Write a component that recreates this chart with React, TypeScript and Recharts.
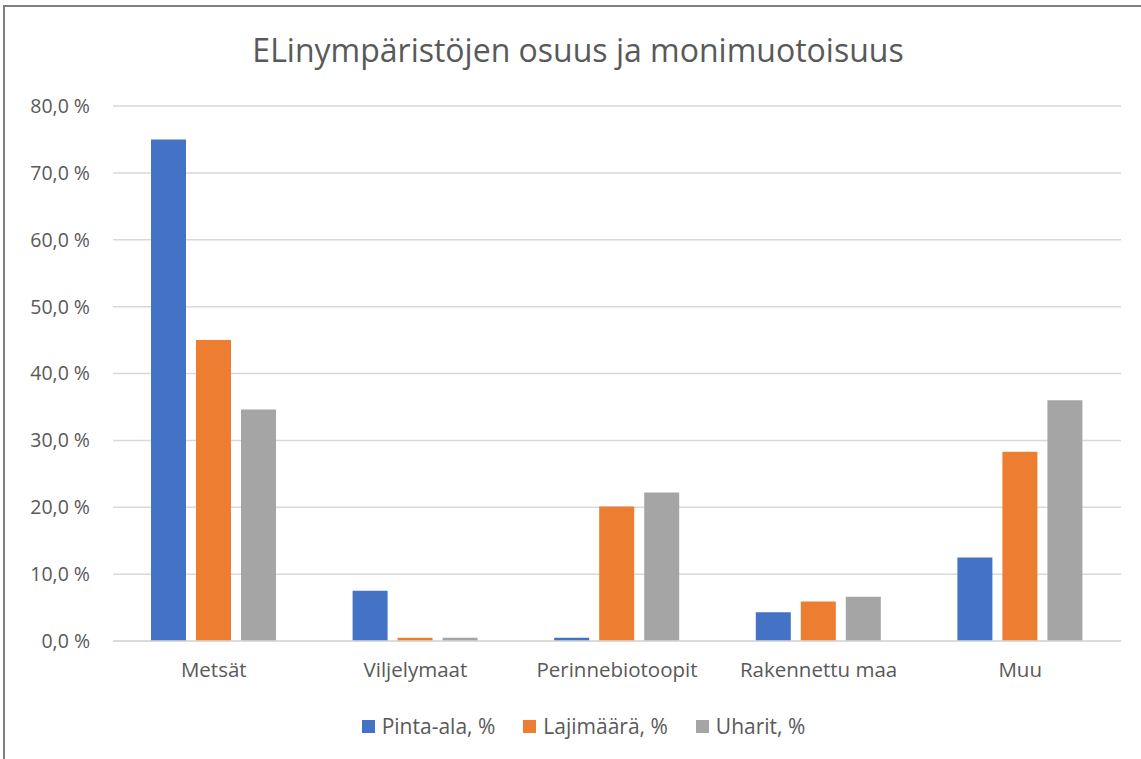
import React from 'react';
import { BarChart, Bar, XAxis, YAxis, CartesianGrid } from 'recharts';

const CATEGORIES = ['Metsät', 'Viljelymaat', 'Perinnebiotoopit', 'Rakennettu maa', 'Muu'];
const PINTA_ALA = [75.0, 7.5, 0.5, 4.3, 12.5];
const LAJIMAARA = [45.0, 0.5, 20.1, 5.9, 28.3];
const UHARIT = [34.6, 0.5, 22.2, 6.6, 36.0];
const Y_TICKS = [0, 10, 20, 30, 40, 50, 60, 70, 80];

const SERIES = [
  { key: 'pinta', name: 'Pinta-ala, %', color: '#4472C4' },
  { key: 'laji', name: 'Lajimäärä, %', color: '#ED7D31' },
  { key: 'uhar', name: 'Uharit, %', color: '#A5A5A5' },
];

const data = CATEGORIES.map((c, i) => ({
  name: c,
  pinta: PINTA_ALA[i],
  laji: LAJIMAARA[i],
  uhar: UHARIT[i],
}));

const FONT = '"Open Sans", sans-serif';
const TEXT = '#595959';

const formatPct = (v: number) => `${v.toFixed(1).replace('.', ',')} %`;

const App: React.FC = () => {
  return (
    <div
      style={{
        position: 'absolute',
        left: 0,
        top: 0,
        width: 1141,
        height: 759,
        overflow: 'hidden',
        background: '#fff',
        fontFamily: FONT,
      }}
    >
      <div
        style={{
          position: 'absolute',
          left: 3,
          top: 5,
          width: 1200,
          height: 800,
          border: '2px solid #7f7f7f',
          boxSizing: 'border-box',
        }}
      />
      <div
        style={{
          position: 'absolute',
          left: 0,
          top: 28,
          width: 1156,
          textAlign: 'center',
          fontSize: 32,
          color: TEXT,
          lineHeight: '44px',
        }}
      >
        ELinympäristöjen osuus ja monimuotoisuus
      </div>
      <div style={{ position: 'absolute', left: 0, top: 0 }}>
        <BarChart
          width={1141}
          height={759}
          data={data}
          margin={{ top: 106, right: 20, bottom: 78, left: 0 }}
          barSize={35}
          barGap={10}
          style={{ fontFamily: FONT }}
        >
          <CartesianGrid vertical={false} stroke="#d9d9d9" strokeWidth={1.5} />
          <XAxis
            dataKey="name"
            height={40}
            axisLine={{ stroke: '#d9d9d9', strokeWidth: 1.5 }}
            tickLine={false}
            tickSize={0}
            tickMargin={21}
            tick={{ fill: TEXT, fontSize: 20.5 }}
          />
          <YAxis
            width={113}
            domain={[0, 80]}
            ticks={Y_TICKS}
            axisLine={false}
            tickLine={false}
            tickSize={0}
            tickMargin={23}
            tickFormatter={formatPct}
            tick={{ fill: TEXT, fontSize: 19.5 }}
          />
          {SERIES.map((s) => (
            <Bar key={s.key} dataKey={s.key} name={s.name} fill={s.color} isAnimationActive={false} />
          ))}
        </BarChart>
      </div>
      <div
        style={{
          position: 'absolute',
          left: 0,
          top: 711,
          width: 1167,
          display: 'flex',
          justifyContent: 'center',
          gap: 28,
          fontSize: 21,
          color: TEXT,
          lineHeight: '30px',
        }}
      >
        {SERIES.map((s) => (
          <div key={s.key} style={{ display: 'flex', alignItems: 'center', gap: 7 }}>
            <span style={{ width: 13, height: 13, background: s.color, display: 'inline-block' }} />
            <span>{s.name}</span>
          </div>
        ))}
      </div>
    </div>
  );
};

export default App;
